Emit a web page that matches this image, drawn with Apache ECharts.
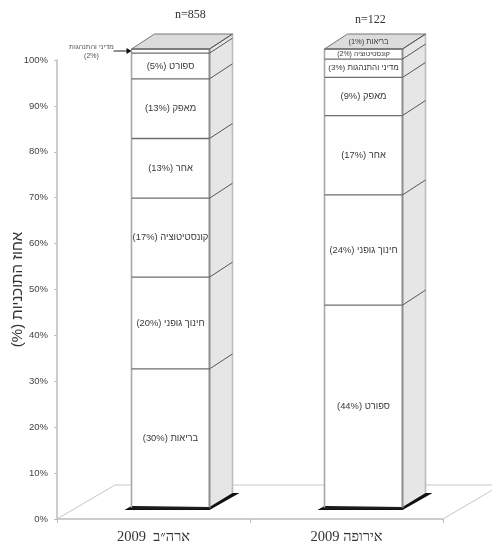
<!DOCTYPE html>
<html><head><meta charset="utf-8">
<style>html,body{margin:0;padding:0;background:#fff}#c{width:492px;height:548px;filter:blur(0.6px)}</style>
<script src="https://cdn.jsdelivr.net/npm/echarts@6/dist/echarts.min.js"></script>
</head><body><div id="c"></div>
<script>
var categories = ['2009  ארה״ב', '2009 אירופה'];
var sampleSizes = ['n=858', 'n=122'];
var yTicks = ['0%','10%','20%','30%','40%','50%','60%','70%','80%','90%','100%'];
var usaValues = [30.3, 20, 17.2, 13, 13, 5.6, 0.9];
var usaLabels = ['(30%) בריאות','(20%) חינוך גופני','(17%) קונסטיטוציה','(13%) אחר','(13%) מאפק','(5%) ספורט','(2%) מדיני והתנהגות'];
var europeValues = [44.2, 24, 17.3, 8.3, 4, 2.2];
var europeLabels = ['(44%) ספורט','(24%) חינוך גופני','(17%) אחר','(9%) מאפק','(3%) מדיני והתנהגות','(2%) קונסטיטוציה'];
var europeTopLabel = '(1%) בריאות';
var yAxisName = '(%) אחוז התוכניות';

var BAR_W = 78, SHIFT_X = 17, SHIFT_Y = -11, DX = 23, DY = -15;
var LINE = '#6e6e6e', EDGE = '#a8a8a8', TXT = '#3a3a3a';

function poly(pts, fill, stroke, lw, z) {
  return {type:'polygon', z2:z||1, shape:{points:pts}, style:{fill:fill, stroke:stroke||'none', lineWidth:lw||0}};
}
function seg(a, b, color, lw, z) {
  return {type:'line', z2:z||3, shape:{x1:a[0],y1:a[1],x2:b[0],y2:b[1]}, style:{stroke:color, lineWidth:lw}};
}
function txt(x, y, s, size, color, font) {
  return {type:'text', z2:6, x:x, y:y, style:{text:s, fontSize:size, fontFamily:font||'Liberation Sans', fill:color||TXT, align:'center', verticalAlign:'middle'}};
}

function renderSegment(params, api) {
  var cat = api.value(0), v0 = api.value(1), v1 = api.value(2), idx = api.value(3), last = api.value(4);
  var label = cat === 0 ? usaLabels[idx] : europeLabels[idx];
  var c0 = api.coord([cat, v0]), c1 = api.coord([cat, v1]);
  var l = c0[0] + SHIFT_X - BAR_W / 2, r = l + BAR_W;
  var yb = c0[1] + SHIFT_Y, yt = c1[1] + SHIFT_Y;
  var ch = [];
  ch.push(poly([[l,yb],[r,yb],[r,yt],[l,yt]], '#fefefe'));
  ch.push(poly([[r,yb],[r+DX,yb+DY],[r+DX,yt+DY],[r,yt]], '#e6e6e6'));
  ch.push(seg([l,yb],[l,yt], EDGE, 1.6, 2));
  ch.push(seg([r,yb],[r,yt], '#8e8e8e', 2, 2));
  ch.push(seg([r+DX,yb+DY],[r+DX,yt+DY], '#bdbdbd', 1.6, 2));
  ch.push(seg([l,yt],[r,yt], LINE, 1.3));
  ch.push(seg([r,yt],[r+DX,yt+DY], '#555', 1));
  if (idx === 0) {
    ch.push(seg([l,yb],[r,yb], '#222', 1.6, 4));
    ch.push(poly([[l-7,yb+2],[l,yb-2],[r,yb-1],[r+DX,yb+DY],[r+DX+7,yb+DY],[r,yb+2]], '#111', null, 0, 0));
  }
  if (last) {
    ch.push(poly([[l,yt],[r,yt],[r+DX,yt+DY],[l+DX,yt+DY]], '#dcdcdc', '#777', 1, 2));
    if (cat === 1) ch.push(txt(l+BAR_W/2+5, yt-7, europeTopLabel, 7.5));
  }
  var h = yb - yt;
  if (h < 11 && cat === 0) {
    var parts = label.split(') ');
    ch.push(txt(l-40, yt-2, parts[1], 7, '#555'));
    ch.push(txt(l-40, yt+7, parts[0]+')', 7, '#555'));
    ch.push(seg([l-18,yt+2],[l-3,yt+2], '#222', 1, 5));
    ch.push(poly([[l-5,yt-1],[l,yt+2],[l-5,yt+5]], '#111', null, 0, 5));
  } else {
    var fs = h < 12 ? 7 : (h < 20 ? 8 : 9.4);
    ch.push(txt((l+r)/2, (yb+yt)/2, label, fs));
  }
  return {type:'group', children:ch};
}

function renderFloor(params, api) {
  var cs = params.coordSys, x0 = cs.x, x1 = cs.x + cs.width, y0 = cs.y + cs.height;
  var fx = 58, fy = -34, c = '#c6c6c6';
  return {type:'group', silent:true, children:[
    seg([x0,y0],[x0+fx,y0+fy], c, 1, 1),
    seg([x0+fx,y0+fy],[x1+fx,y0+fy], c, 1, 1),
    seg([x1,y0],[x1+fx,y0+fy], c, 1, 1)
  ]};
}

function stackRows(cat, values) {
  var sum = 0;
  return values.map(function (v, i) {
    var row = [cat, sum, sum + v, i, i === values.length - 1 ? 1 : 0];
    sum += v;
    return row;
  });
}

var chart = echarts.init(document.getElementById('c'), null, {width:492, height:548});
chart.setOption({
  animation:false,
  backgroundColor:'#fff',
  grid:{left:57, right:49, top:60, bottom:29, containLabel:false, outerBoundsMode:'none'},
  xAxis:{type:'category', data:categories,
    axisLine:{lineStyle:{color:'#bdbdbd', width:1.5}},
    axisTick:{show:true, alignWithLabel:false, length:4, lineStyle:{color:'#bdbdbd'}},
    axisLabel:{fontSize:14.5, fontFamily:'Liberation Serif', color:'#333', margin:11}},
  yAxis:{type:'value', min:0, max:100, interval:10,
    name:yAxisName, nameLocation:'middle', nameGap:32, nameRotate:90, nameMoveOverlap:false,
    nameTextStyle:{fontSize:15, fontFamily:'Liberation Sans', color:'#333'},
    axisLine:{show:true, lineStyle:{color:'#bdbdbd', width:1.5}},
    axisTick:{show:true, length:3, lineStyle:{color:'#bdbdbd'}},
    splitLine:{show:false},
    axisLabel:{fontSize:9.5, fontFamily:'Liberation Sans', color:'#444', margin:9,
      formatter:function(v){ return yTicks[v/10]; }}},
  series:[
    {type:'custom', coordinateSystem:'cartesian2d', z:1, silent:true, renderItem:renderFloor, data:[[0,0]], encode:{x:0,y:1}, clip:false},
    {type:'custom', coordinateSystem:'cartesian2d', z:2, silent:true, renderItem:renderSegment,
      data:stackRows(0, usaValues), encode:{x:0,y:[1,2]}, clip:false},
    {type:'custom', coordinateSystem:'cartesian2d', z:3, silent:true, renderItem:renderSegment,
      data:stackRows(1, europeValues), encode:{x:0,y:[1,2]}, clip:false}
  ],
  graphic:[
    {type:'text', left:175, top:9, style:{text:sampleSizes[0], fontSize:12, fontFamily:'Liberation Serif', fill:'#333'}},
    {type:'text', left:355, top:14, style:{text:sampleSizes[1], fontSize:12, fontFamily:'Liberation Serif', fill:'#333'}}
  ]
});
</script></body></html>
